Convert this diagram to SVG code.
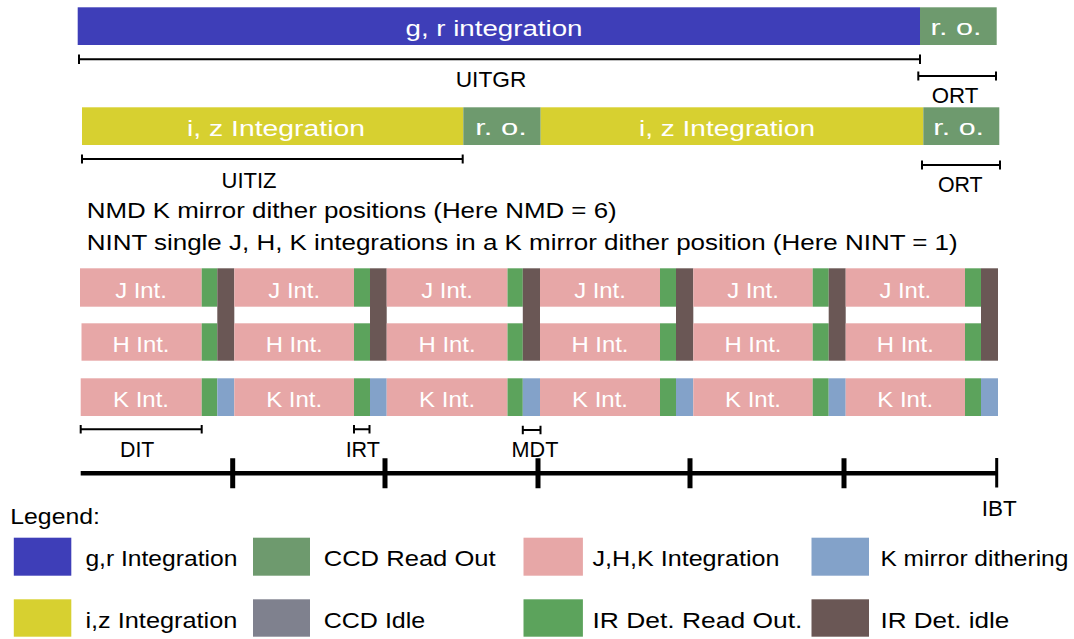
<svg xmlns="http://www.w3.org/2000/svg" width="1074" height="639" viewBox="0 0 1074 639">
<style>
text{font-family:"Liberation Sans",Arial,sans-serif;font-size:21.5px;fill:#000}
.w{fill:#fff;text-anchor:middle}
.c{text-anchor:middle}
.gr{fill:#3E3EB8}.ro{fill:#6E9A6E}.iz{fill:#D7D030}.pk{fill:#E7A7A7}.ir{fill:#5CA35C}.br{fill:#6A5755}.mb{fill:#83A2C9}.ci{fill:#7F818E}
.dim{stroke:#000;stroke-width:2;fill:none}
.tl{stroke:#000;stroke-width:4.5;fill:none}
</style>
<rect width="1074" height="639" fill="#fff"/>
<g id="gr-row">
<rect class="gr" x="77.7" y="7.3" width="842.3" height="37.7"/>
<rect class="ro" x="920" y="7.3" width="76.7" height="37.7"/>
<text class="w" x="494" y="36" textLength="177" lengthAdjust="spacingAndGlyphs">g, r integration</text>
<text class="w" x="956" y="35" textLength="51" lengthAdjust="spacingAndGlyphs">r. o.</text>
</g>
<g id="iz-row">
<rect class="iz" x="82" y="107.3" width="381.3" height="37.7"/>
<rect class="ro" x="463.3" y="107.3" width="77.4" height="37.7"/>
<rect class="iz" x="540.7" y="107.3" width="382.6" height="37.7"/>
<rect class="ro" x="923.3" y="107.3" width="76" height="37.7"/>
<text class="w" x="276" y="135.5" textLength="178" lengthAdjust="spacingAndGlyphs">i, z Integration</text>
<text class="w" x="501" y="135" textLength="51.7" lengthAdjust="spacingAndGlyphs">r. o.</text>
<text class="w" x="727" y="135.5" textLength="176" lengthAdjust="spacingAndGlyphs">i, z Integration</text>
<text class="w" x="958.7" y="135" textLength="50.7" lengthAdjust="spacingAndGlyphs">r. o.</text>
</g>
<g id="dimensions">
<path class="dim" d="M79 59.3H920M79 54.5V64M920 54.5V64"/>
<path class="dim" d="M918.3 76H996M918.3 71.5V80.5M996 71.5V80.5"/>
<path class="dim" d="M82 159H462.7M82 154.5V163.5M462.7 154.5V163.5"/>
<path class="dim" d="M922 165H1000M922 160.5V169.5M1000 160.5V169.5"/>
<path class="dim" d="M80.7 429.3H201.7M80.7 425V433.5M201.7 425V433.5"/>
<path class="dim" d="M354 429.3H369.5M354 425V433.5M369.5 425V433.5"/>
<path class="dim" d="M522.8 430H540.5M522.8 425.7V434.3M540.5 425.7V434.3"/>
<text class="c" x="491" y="87" textLength="70.6" lengthAdjust="spacingAndGlyphs">UITGR</text>
<text class="c" x="955" y="103" textLength="46.6" lengthAdjust="spacingAndGlyphs">ORT</text>
<text class="c" x="249" y="188" textLength="55" lengthAdjust="spacingAndGlyphs">UITIZ</text>
<text class="c" x="960.3" y="191.5" textLength="44.7" lengthAdjust="spacingAndGlyphs">ORT</text>
<text class="c" x="137.2" y="457" textLength="34.3" lengthAdjust="spacingAndGlyphs">DIT</text>
<text class="c" x="362.8" y="457" textLength="34.3" lengthAdjust="spacingAndGlyphs">IRT</text>
<text class="c" x="535" y="457" textLength="46.8" lengthAdjust="spacingAndGlyphs">MDT</text>
<text class="c" x="999.2" y="516" textLength="35" lengthAdjust="spacingAndGlyphs">IBT</text>
</g>
<g id="notes">
<text x="86.7" y="218.3" textLength="530" lengthAdjust="spacingAndGlyphs">NMD K mirror dither positions (Here NMD =  6)</text>
<text x="86.7" y="249.5" textLength="871" lengthAdjust="spacingAndGlyphs">NINT single J,  H,  K integrations in a K mirror dither position (Here NINT =  1)</text>
</g>
<g id="ir-rows">
<g id="p1">
<rect class="pk" x="80" y="268.3" width="121.7" height="38.4"/>
<rect class="pk" x="81.5" y="323.3" width="120.2" height="37.4"/>
<rect class="pk" x="80.7" y="378.3" width="121" height="37.7"/>
<rect class="ir" x="201.7" y="268.3" width="15.6" height="38.4"/>
<rect class="ir" x="201.7" y="323.3" width="15.6" height="37.4"/>
<rect class="ir" x="201.7" y="378.3" width="15.6" height="37.7"/>
<rect class="br" x="217.3" y="268.3" width="17" height="92.4"/>
<rect class="mb" x="217.3" y="378.3" width="17" height="37.7"/>
<text class="w" x="141" y="298.3" textLength="51.7" lengthAdjust="spacingAndGlyphs">J Int.</text>
<text class="w" x="141" y="352.3" textLength="57" lengthAdjust="spacingAndGlyphs">H Int.</text>
<text class="w" x="141" y="406.7" textLength="56" lengthAdjust="spacingAndGlyphs">K Int.</text>
</g>
<g id="p2">
<rect class="pk" x="234.3" y="268.3" width="119.7" height="38.4"/>
<rect class="pk" x="234.3" y="323.3" width="119.7" height="37.4"/>
<rect class="pk" x="234.3" y="378.3" width="119.7" height="37.7"/>
<rect class="ir" x="354" y="268.3" width="16" height="38.4"/>
<rect class="ir" x="354" y="323.3" width="16" height="37.4"/>
<rect class="ir" x="354" y="378.3" width="16" height="37.7"/>
<rect class="br" x="370" y="268.3" width="16.7" height="92.4"/>
<rect class="mb" x="370" y="378.3" width="16.7" height="37.7"/>
<text class="w" x="294.2" y="298.3" textLength="51.7" lengthAdjust="spacingAndGlyphs">J Int.</text>
<text class="w" x="294.2" y="352.3" textLength="57" lengthAdjust="spacingAndGlyphs">H Int.</text>
<text class="w" x="294.2" y="406.7" textLength="56" lengthAdjust="spacingAndGlyphs">K Int.</text>
</g>
<g id="p3">
<rect class="pk" x="386.7" y="268.3" width="120.8" height="38.4"/>
<rect class="pk" x="386.7" y="323.3" width="120.8" height="37.4"/>
<rect class="pk" x="386.7" y="378.3" width="120.8" height="37.7"/>
<rect class="ir" x="507.5" y="268.3" width="15.3" height="38.4"/>
<rect class="ir" x="507.5" y="323.3" width="15.3" height="37.4"/>
<rect class="ir" x="507.5" y="378.3" width="15.3" height="37.7"/>
<rect class="br" x="522.8" y="268.3" width="17.2" height="92.4"/>
<rect class="mb" x="522.8" y="378.3" width="17.2" height="37.7"/>
<text class="w" x="447.1" y="298.3" textLength="51.7" lengthAdjust="spacingAndGlyphs">J Int.</text>
<text class="w" x="447.1" y="352.3" textLength="57" lengthAdjust="spacingAndGlyphs">H Int.</text>
<text class="w" x="447.1" y="406.7" textLength="56" lengthAdjust="spacingAndGlyphs">K Int.</text>
</g>
<g id="p4">
<rect class="pk" x="540" y="268.3" width="120" height="38.4"/>
<rect class="pk" x="540" y="323.3" width="120" height="37.4"/>
<rect class="pk" x="540" y="378.3" width="120" height="37.7"/>
<rect class="ir" x="660" y="268.3" width="16" height="38.4"/>
<rect class="ir" x="660" y="323.3" width="16" height="37.4"/>
<rect class="ir" x="660" y="378.3" width="16" height="37.7"/>
<rect class="br" x="676" y="268.3" width="17.3" height="92.4"/>
<rect class="mb" x="676" y="378.3" width="17.3" height="37.7"/>
<text class="w" x="600" y="298.3" textLength="51.7" lengthAdjust="spacingAndGlyphs">J Int.</text>
<text class="w" x="600" y="352.3" textLength="57" lengthAdjust="spacingAndGlyphs">H Int.</text>
<text class="w" x="600" y="406.7" textLength="56" lengthAdjust="spacingAndGlyphs">K Int.</text>
</g>
<g id="p5">
<rect class="pk" x="693.3" y="268.3" width="119.4" height="38.4"/>
<rect class="pk" x="693.3" y="323.3" width="119.4" height="37.4"/>
<rect class="pk" x="693.3" y="378.3" width="119.4" height="37.7"/>
<rect class="ir" x="812.7" y="268.3" width="16" height="38.4"/>
<rect class="ir" x="812.7" y="323.3" width="16" height="37.4"/>
<rect class="ir" x="812.7" y="378.3" width="16" height="37.7"/>
<rect class="br" x="828.7" y="268.3" width="17" height="92.4"/>
<rect class="mb" x="828.7" y="378.3" width="17" height="37.7"/>
<text class="w" x="753" y="298.3" textLength="51.7" lengthAdjust="spacingAndGlyphs">J Int.</text>
<text class="w" x="753" y="352.3" textLength="57" lengthAdjust="spacingAndGlyphs">H Int.</text>
<text class="w" x="753" y="406.7" textLength="56" lengthAdjust="spacingAndGlyphs">K Int.</text>
</g>
<g id="p6">
<rect class="pk" x="845.7" y="268.3" width="119.3" height="38.4"/>
<rect class="pk" x="845.7" y="323.3" width="119.3" height="37.4"/>
<rect class="pk" x="845.7" y="378.3" width="119.3" height="37.7"/>
<rect class="ir" x="965" y="268.3" width="16" height="38.4"/>
<rect class="ir" x="965" y="323.3" width="16" height="37.4"/>
<rect class="ir" x="965" y="378.3" width="16" height="37.7"/>
<rect class="br" x="981" y="268.3" width="17" height="92.4"/>
<rect class="mb" x="981" y="378.3" width="17" height="37.7"/>
<text class="w" x="905.3" y="298.3" textLength="51.7" lengthAdjust="spacingAndGlyphs">J Int.</text>
<text class="w" x="905.3" y="352.3" textLength="57" lengthAdjust="spacingAndGlyphs">H Int.</text>
<text class="w" x="905.3" y="406.7" textLength="56" lengthAdjust="spacingAndGlyphs">K Int.</text>
</g>
</g>
<g id="timeline">
<path class="tl" d="M80.7 473.3H996.7"/>
<path stroke="#000" stroke-width="5" d="M232.7 458.3V488.3M385 458.3V488.3M538 458.3V488.3M690 458.3V488.3M844 458.3V488.3"/>
<path stroke="#000" stroke-width="3" d="M996.7 458V487.5"/>
</g>
<g id="legend">
<text x="10.3" y="524" textLength="89.6" lengthAdjust="spacingAndGlyphs">Legend:</text>
<rect class="gr" x="13.8" y="537.7" width="57.5" height="38"/>
<text x="85.4" y="566" textLength="152" lengthAdjust="spacingAndGlyphs">g,r Integration</text>
<rect class="ro" x="253" y="537.7" width="57" height="38"/>
<text x="323.7" y="566" textLength="172" lengthAdjust="spacingAndGlyphs">CCD Read Out</text>
<rect class="pk" x="523.5" y="537.7" width="59.4" height="38"/>
<text x="592.4" y="566" textLength="187" lengthAdjust="spacingAndGlyphs">J,H,K Integration</text>
<rect class="mb" x="811.5" y="537.7" width="57.5" height="38"/>
<text x="880.4" y="566" textLength="188" lengthAdjust="spacingAndGlyphs">K mirror dithering</text>
<rect class="iz" x="13.8" y="599.3" width="57.5" height="37.4"/>
<text x="85.4" y="628" textLength="152" lengthAdjust="spacingAndGlyphs">i,z Integration</text>
<rect class="ci" x="253" y="599.3" width="57" height="37.4"/>
<text x="323.7" y="628" textLength="101.6" lengthAdjust="spacingAndGlyphs">CCD Idle</text>
<rect class="ir" x="523.5" y="599.3" width="59.4" height="37.4"/>
<text x="592.4" y="628" textLength="210" lengthAdjust="spacingAndGlyphs">IR Det.  Read Out.</text>
<rect class="br" x="811.5" y="599.3" width="57.5" height="37.4"/>
<text x="880.4" y="628" textLength="129" lengthAdjust="spacingAndGlyphs">IR Det.  idle</text>
</g>
</svg>
